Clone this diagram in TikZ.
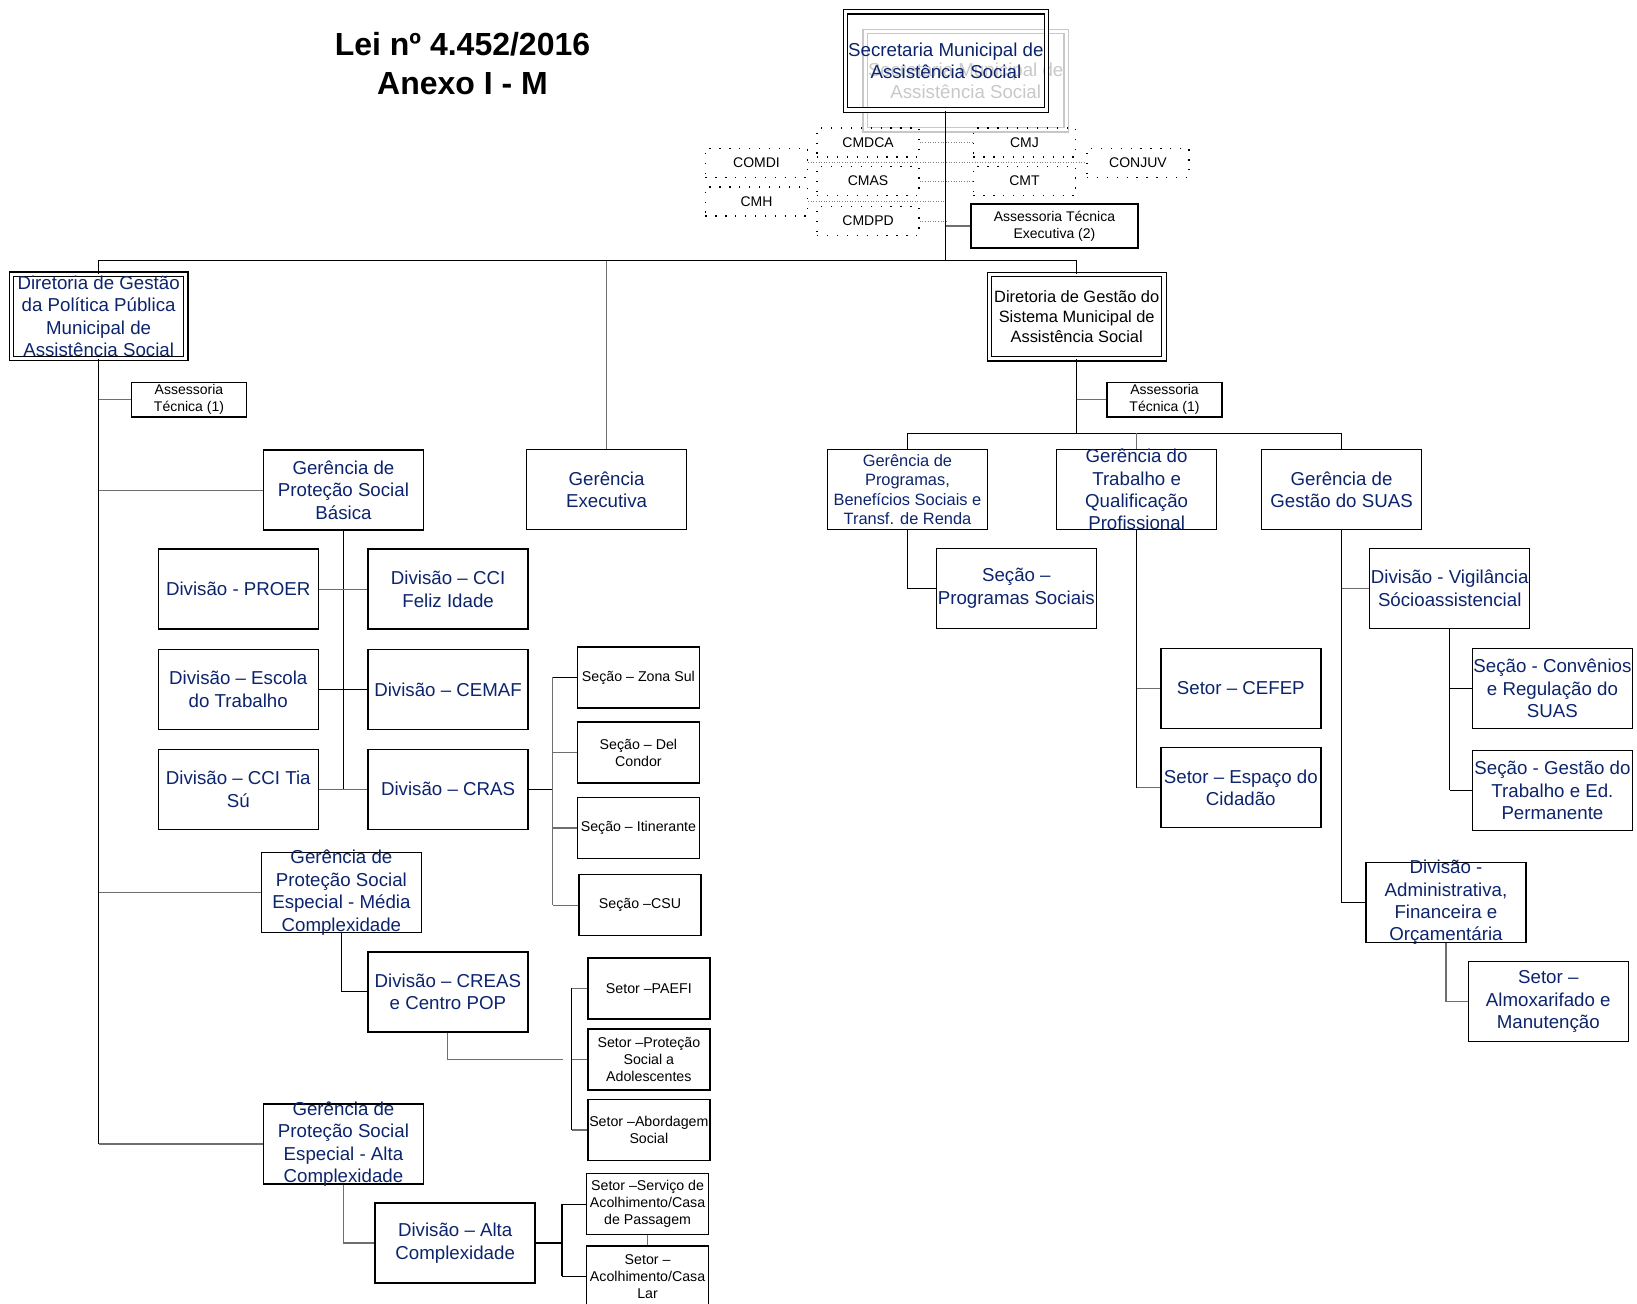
\documentclass[tikz,border=0pt]{standalone}
\usepackage{fontspec}
\setmainfont{Liberation Sans}
\definecolor{orgblue}{RGB}{12,36,108}
\definecolor{linkgray}{RGB}{110,110,110}
\definecolor{ghostgray}{RGB}{200,200,200}
\newcommand\titletxt{\fontsize{16}{19.5}\selectfont\bfseries}
\newcommand\bigtxt{\fontsize{9.35}{11.2}\selectfont}
\newcommand\midtxt{\fontsize{8.2}{9.8}\selectfont}
\newcommand\smalltxt{\fontsize{7.1}{8.5}\selectfont}
\newcommand\tinytxt{\fontsize{7}{8.5}\selectfont}

\begin{document}
\begin{tikzpicture}[x=0.522pt,y=-0.522pt,
  orgbox/.style={draw,line width=0.7pt,inner sep=0pt,align=center,text=orgblue,
    font=\bigtxt,minimum width=80pt,minimum height=40pt},
  dblbox/.style={orgbox,double,line width=0.6pt,double distance=1.6pt,
    minimum width=87.2pt,minimum height=42.2pt},
  secbox/.style={orgbox,text=black,font=\smalltxt,minimum width=61pt,minimum height=30.5pt},
  asbox/.style={orgbox,text=black,font=\tinytxt,minimum width=57.4pt,minimum height=17.2pt},
  council/.style={draw,line width=0.65pt,dash pattern=on 0.65pt off 4.3pt,inner sep=0pt,
    font=\tinytxt,minimum width=51pt,minimum height=14.5pt},
  tight/.style={inner ysep=-5pt},
  trunk/.style={line width=0.6pt},
  branch/.style={line width=0.6pt,draw=linkgray},
  dotlink/.style={line width=0.4pt,draw=gray,dash pattern=on 0.5pt off 0.8pt}]
  \useasboundingbox (0,0) rectangle (1568,1249);
  \clip (0,0) rectangle (1568,1249);

  % title
  \node[font=\titletxt,align=center] (title) at (443,61) {Lei nº 4.452/2016\\Anexo I - M};

  % secretaria and its councils
  \node[dblbox,draw=ghostgray,text=ghostgray,minimum width=100.5pt,minimum height=49.1pt]
    (sec_ghost) at (925,77.3) {Secretaria Municipal de\\Assistência Social};
  \node[dblbox,minimum width=100.5pt,minimum height=49.1pt]
    (sec) at (906,58.3) {Secretaria Municipal de\\Assistência Social};
  \node[council] (cmdca)  at (831.5,136.5) {CMDCA};
  \node[council] (cmas)   at (831.5,173.4) {CMAS};
  \node[council] (cmdpd)  at (831.5,211.7) {CMDPD};
  \node[council] (comdi)  at (724.6,156)   {COMDI};
  \node[council] (cmh)    at (724.6,193)   {CMH};
  \node[council] (cmj)    at (981.3,136.5) {CMJ};
  \node[council] (cmt)    at (981.3,173.4) {CMT};
  \node[council] (conjuv) at (1090,156)    {CONJUV};
  \node[asbox,minimum width=83.5pt,minimum height=22pt] (ate) at (1010,216.5)
    {Assessoria Técnica\\Executiva (2)};
  \coordinate (top) at (906,249.7);

  % diretoria da politica publica
  \node[dblbox,inner ysep=-2pt] (dir_pol) at (94.5,303)
    {Diretoria de Gestão\\da Política Pública\\Municipal de\\Assistência Social};
  \node[asbox] (as_pol) at (181,383) {Assessoria\\Técnica (1)};
  \node[orgbox] (g_psb)  at (329,469.5) {Gerência de\\Proteção Social\\Básica};
  \node[orgbox] (g_exec) at (581,469)   {Gerência\\Executiva};
  \node[orgbox] (d_proer)  at (228.2,564.3) {Divisão - PROER};
  \node[orgbox] (d_feliz)  at (429.2,564.3) {Divisão – CCI\\Feliz Idade};
  \node[orgbox] (d_escola) at (228.2,660.3) {Divisão – Escola\\do Trabalho};
  \node[orgbox] (d_cemaf)  at (429.2,660.3) {Divisão – CEMAF};
  \node[orgbox] (d_tiasu)  at (228.2,756)   {Divisão – CCI Tia\\Sú};
  \node[orgbox] (d_cras)   at (429.2,756)   {Divisão – CRAS};
  \node[secbox] (s_zona)   at (611.5,648.8) {Seção – Zona Sul};
  \node[secbox] (s_del)    at (611.5,720.8) {Seção – Del\\Condor};
  \node[secbox] (s_itin)   at (611.5,793)   {Seção – Itinerante};
  \node[secbox] (s_csu)    at (613,867)     {Seção –CSU};
  \node[orgbox,tight] (g_media) at (327,855)
    {Gerência de\\Proteção Social\\Especial - Média\\Complexidade};
  \node[orgbox] (d_creas)  at (429,950) {Divisão – CREAS\\e Centro POP};
  \node[secbox] (st_paefi) at (621.5,946.7)  {Setor –PAEFI};
  \node[secbox] (st_adol)  at (621.5,1014.8) {Setor –Proteção\\Social a\\Adolescentes};
  \node[secbox] (st_abord) at (621.5,1082.4) {Setor –Abordagem\\Social};
  \node[orgbox,tight] (g_alta) at (329,1095.8)
    {Gerência de\\Proteção Social\\Especial - Alta\\Complexidade};
  \node[orgbox] (d_alta)   at (436,1190.6) {Divisão – Alta\\Complexidade};
  \node[secbox] (st_pass)  at (620.3,1153.4) {Setor –Serviço de\\Acolhimento/Casa\\de Passagem};
  \node[secbox] (st_lar)   at (620.3,1222.5) {Setor –\\Acolhimento/Casa\\Lar};
  \coordinate (creas_end) at (539.6,1014.8);

  % diretoria do sistema
  \node[dblbox,text=black,font=\midtxt] (dir_sis) at (1031.3,303.2)
    {Diretoria de Gestão do\\Sistema Municipal de\\Assistência Social};
  \node[asbox] (as_sis) at (1115.4,383) {Assessoria\\Técnica (1)};
  \coordinate (rbar) at (1031.3,415);
  \node[orgbox,font=\midtxt] (g_prog) at (869.2,469)
    {Gerência de\\Programas,\\Benefícios Sociais e\\Transf. de Renda};
  \node[orgbox,tight] (g_trab) at (1088.7,469)
    {Gerência do\\Trabalho e\\Qualificação\\Profissional};
  \node[orgbox] (g_suas)   at (1285,469)     {Gerência de\\Gestão do SUAS};
  \node[orgbox] (s_prog)   at (973.5,563.5)  {Seção –\\Programas Sociais};
  \node[orgbox] (st_cefep) at (1188.5,659.5) {Setor – CEFEP};
  \node[orgbox] (st_esp)   at (1188.5,754.5) {Setor – Espaço do\\Cidadão};
  \node[orgbox] (d_vig)    at (1388.6,563.5) {Divisão - Vigilância\\Sócioassistencial};
  \node[orgbox] (s_conv)   at (1487,659.5)   {Seção - Convênios\\e Regulação do\\SUAS};
  \node[orgbox] (s_gest)   at (1487,757)     {Seção - Gestão do\\Trabalho e Ed.\\Permanente};
  \node[orgbox,tight] (d_adm) at (1385,864.5)
    {Divisão -\\Administrativa,\\Financeira e\\Orçamentária};
  \node[orgbox] (st_almox) at (1483,959.5)   {Setor –\\Almoxarifado e\\Manutenção};

  % council links
  \draw[dotlink] (cmdca.east) -- (cmj.west);
  \draw[dotlink] (comdi.east) -- (conjuv.west);
  \draw[dotlink] (cmas.east) -- (cmt.west);
  \draw[dotlink] (cmh.east) -- (cmh.east -| sec.south);
  \draw[dotlink] (cmdpd.east) -- (cmdpd.east -| sec.south);

  % top level
  \draw[trunk] (sec.south) -- (top);
  \draw[branch] (sec.south |- ate.west) -- (ate.west);
  \draw[trunk] (dir_pol.north) -- (dir_pol.north |- top) -- (dir_sis.north |- top) -- (dir_sis.north);
  \draw[branch] (g_exec.north) -- (g_exec.north |- top);

  % left side
  \draw[trunk] (dir_pol.south) -- (dir_pol.south |- g_alta.west);
  \draw[branch] (dir_pol.south |- as_pol.west) -- (as_pol.west);
  \draw[branch] (dir_pol.south |- g_psb.west) -- (g_psb.west);
  \draw[branch] (dir_pol.south |- g_media.west) -- (g_media.west);
  \draw[branch] (dir_pol.south |- g_alta.west) -- (g_alta.west);
  \draw[trunk] (g_psb.south) -- (g_psb.south |- d_cras.west);
  \draw[branch] (d_proer.east) -- (d_feliz.west);
  \draw[trunk] (d_escola.east) -- (d_cemaf.west);
  \draw[branch] (d_tiasu.east) -- (d_cras.west);
  \draw[trunk] (d_cras.east) -- ++(23,0) coordinate (cras_bar);
  \draw[branch] (cras_bar |- s_zona.west) -- (cras_bar |- s_csu.west);
  \draw[trunk] (cras_bar |- s_zona.west) -- (s_zona.west);
  \foreach \s in {s_del,s_itin,s_csu}
    \draw[branch] (cras_bar |- \s.west) -- (\s.west);
  \draw[trunk] (g_media.south) |- (d_creas.west);
  \draw[branch] (d_creas.south) |- (creas_end);
  \draw[trunk] (creas_end) ++(8,0) coordinate (creas_bar)
    (creas_bar |- st_paefi.west) -- (creas_bar |- st_abord.west);
  \foreach \s in {st_paefi,st_adol,st_abord}
    \draw[branch] (creas_bar |- \s.west) -- (\s.west);
  \draw[branch] (g_alta.south) |- (d_alta.west);
  \draw[trunk] (d_alta.east) -- ++(25,0) coordinate (alta_bar);
  \draw[trunk] (alta_bar |- st_pass.west) -- (alta_bar |- st_lar.west);
  \foreach \s in {st_pass,st_lar}
    \draw[trunk] (alta_bar |- \s.west) -- (\s.west);
  \draw[branch] (st_pass.south) -- (st_lar.north);

  % right side
  \draw[trunk] (dir_sis.south) -- (rbar);
  \draw[branch] (dir_sis.south |- as_sis.west) -- (as_sis.west);
  \draw[trunk] (g_prog.north) -- (g_prog.north |- rbar) -- (g_suas.north |- rbar) -- (g_suas.north);
  \draw[branch] (g_trab.north) -- (g_trab.north |- rbar);
  \draw[trunk] (g_prog.south) |- (s_prog.west);
  \draw[trunk] (g_trab.south) -- (g_trab.south |- st_esp.west);
  \draw[branch] (g_trab.south |- st_cefep.west) -- (st_cefep.west);
  \draw[branch] (g_trab.south |- st_esp.west) -- (st_esp.west);
  \draw[trunk] (g_suas.south) -- (g_suas.south |- d_adm.west);
  \draw[branch] (g_suas.south |- d_vig.west) -- (d_vig.west);
  \draw[trunk] (g_suas.south |- d_adm.west) -- (d_adm.west);
  \draw[trunk] (d_vig.south) -- (d_vig.south |- s_gest.west);
  \draw[trunk] (d_vig.south |- s_conv.west) -- (s_conv.west);
  \draw[trunk] (d_vig.south |- s_gest.west) -- (s_gest.west);
  \draw[branch] (d_adm.south) |- (st_almox.west);
\end{tikzpicture}
\end{document}
